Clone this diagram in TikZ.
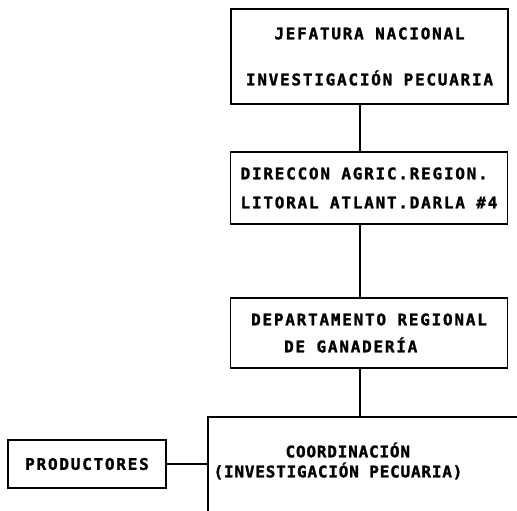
\documentclass[tikz,border=0pt]{standalone}
\usepackage{fontspec}
\newfontfamily\plotter[LetterSpace=11, FakeBold=1.5]{DejaVu Sans Mono Bold}
\newfontfamily\plottertight[LetterSpace=5, FakeBold=1.5]{DejaVu Sans Mono Bold}
\begin{document}
\begin{tikzpicture}[x=1pt,y=-1pt,
  plotfont/.style={font=\plotter\fontsize{16}{17}\selectfont},
  orgbox/.style={draw, line width=1.2pt, inner sep=0pt, minimum width=277pt, plotfont},
  link/.style={line width=1.3pt},
  label/.style={inner sep=0pt, font=\plottertight\fontsize{16}{17}\selectfont}]
\useasboundingbox (0,0) rectangle (517,511);
\coordinate (trunk) at (360,0);

\node[orgbox, minimum height=95pt, align=center] (jefatura) at (369.5,56.5)
  {JEFATURA NACIONAL\\[29pt]INVESTIGACIÓN PECUARIA};
\node[orgbox, minimum height=72pt, align=left] (direccion) at (369,188)
  {DIRECCON AGRIC.REGION.\\[12pt]LITORAL ATLANT.DARLA \#4};
\node[orgbox, minimum height=70pt, align=left] (departamento) at (369,333)
  {DEPARTAMENTO REGIONAL\\[10pt]\hspace*{33pt}DE GANADERÍA};
\node[orgbox, minimum width=158pt, minimum height=48pt] (productores) at (87,464)
  {PRODUCTORES};

% open frame of the coordination unit
\coordinate (coordtl) at (208,417);
\coordinate (coordtr) at (517,417);
\coordinate (coordbl) at (208,511);
\draw[line width=1.2pt] (coordtr) -- (coordtl) -- (coordbl);
\node[label, align=left] (coordinacion) at (338,461)
  {\hspace*{72pt}COORDINACIÓN\\[3pt](INVESTIGACIÓN PECUARIA)};

% connectors
\draw[link] (jefatura.south -| trunk) -- (direccion.north -| trunk);
\draw[link] (direccion.south -| trunk) -- (departamento.north -| trunk);
\draw[link] (departamento.south -| trunk) -- (coordtl -| trunk);
\draw[link] (productores.east) -- (productores.east -| coordtl);
\end{tikzpicture}
\end{document}
